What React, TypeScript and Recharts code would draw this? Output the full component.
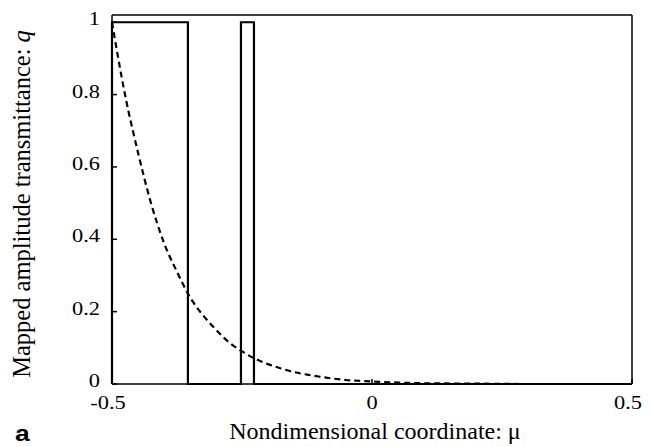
import { LineChart, Line, XAxis, YAxis, Label } from 'recharts';

// aperture (rectangles) in mu coordinate
const apertureMu = [-0.5, -0.5, -0.354, -0.354, -0.252, -0.252, -0.227, -0.227, 0.5];
const apertureQ = [0, 1, 1, 0, 0, 1, 1, 0, 0];

// mapped transmittance curve
const curveMu = [-0.5, -0.475, -0.45, -0.425, -0.4, -0.375, -0.35, -0.325, -0.3, -0.275, -0.25, -0.225, -0.2, -0.175, -0.15, -0.125, -0.1, -0.075, -0.05, -0.025, 0, 0.05, 0.1, 0.2, 0.3, 0.5];
const curveQ = [1.0, 0.8, 0.64, 0.5, 0.39, 0.31, 0.24, 0.19, 0.15, 0.115, 0.09, 0.07, 0.055, 0.043, 0.033, 0.026, 0.02, 0.015, 0.011, 0.009, 0.007, 0.004, 0.002, 0.001, 0, 0];

const xTicks = [-0.5, 0, 0.5];
const yTicks = [0, 0.2, 0.4, 0.6, 0.8, 1];

const apertureData = apertureMu.map((mu, i) => ({ mu, q: apertureQ[i] }));
const curveData = curveMu.map((mu, i) => ({ mu, q: curveQ[i] }));

const FONT = '"Liberation Serif", "Times New Roman", serif';
const TICK = 5;
const TICK_W = 1.5;

// tick labels in the figure are a little wider than tall
const TickText = ({ x, y, anchor, children }: any) => (
  <text
    transform={`translate(${x},${y}) scale(1.18,1)`}
    textAnchor={anchor}
    style={{ fontFamily: FONT, fontSize: 19 }}
    fill="#000"
  >
    {children}
  </text>
);

const BottomTick = (props: any) => {
  const { x, y, payload } = props;
  const dx = payload.value === 0 ? 0 : -4;
  return (
    <g>
      <line x1={x} y1={y} x2={x} y2={y - TICK} stroke="#000" strokeWidth={TICK_W} />
      <TickText x={x + dx} y={y + 25} anchor="middle">{String(payload.value)}</TickText>
    </g>
  );
};

const TopTick = (props: any) => {
  const { x, y } = props;
  return <line x1={x} y1={y} x2={x} y2={y + TICK} stroke="#000" strokeWidth={TICK_W} />;
};

const LeftTick = (props: any) => {
  const { x, y, payload } = props;
  return (
    <g>
      <line x1={x} y1={y} x2={x + TICK} y2={y} stroke="#000" strokeWidth={TICK_W} />
      <TickText x={x - 12} y={y + 3} anchor="end">{String(payload.value)}</TickText>
    </g>
  );
};

const RightTick = (props: any) => {
  const { x, y } = props;
  return <line x1={x} y1={y} x2={x - TICK} y2={y} stroke="#000" strokeWidth={TICK_W} />;
};

const XLabel = () => (
  <g>
    <text x={375} y={439} textAnchor="middle" style={{ fontFamily: FONT, fontSize: 24 }} fill="#000">
      Nondimensional coordinate: μ
    </text>
    <text
      transform="translate(15,441) scale(1.2,1)"
      style={{ fontFamily: '"Liberation Sans", Arial, sans-serif', fontWeight: 'bold', fontSize: 22 }}
      fill="#000"
    >
      a
    </text>
  </g>
);

const YLabel = () => (
  <text
    transform="translate(30,204) rotate(-90)"
    textAnchor="middle"
    style={{ fontFamily: FONT, fontSize: 24.5 }}
    fill="#000"
  >
    Mapped amplitude transmittance: <tspan fontStyle="italic">q</tspan>
  </text>
);

export default function App() {
  const axisLine = { stroke: '#000', strokeWidth: 1.5 };
  return (
    <div style={{ position: 'absolute', left: 0, top: 0, background: '#fff' }}>
      <LineChart width={653} height={447} margin={{ top: 14, right: 20, bottom: 62, left: 111 }}>
        <XAxis
          dataKey="mu"
          type="number"
          domain={[-0.5, 0.5]}
          ticks={xTicks}
          interval={0}
          height={1}
          tickSize={0}
          tickMargin={0}
          tickLine={false}
          axisLine={axisLine}
          tick={<BottomTick />}
        >
          <Label content={<XLabel />} />
        </XAxis>
        <XAxis
          xAxisId="top"
          orientation="top"
          dataKey="mu"
          type="number"
          domain={[-0.5, 0.5]}
          ticks={xTicks}
          interval={0}
          height={1}
          tickSize={0}
          tickMargin={0}
          tickLine={false}
          axisLine={axisLine}
          tick={<TopTick />}
        />
        <YAxis
          type="number"
          domain={[0, 1.02]}
          ticks={yTicks}
          interval={0}
          width={1}
          tickSize={0}
          tickMargin={0}
          tickLine={false}
          axisLine={axisLine}
          tick={<LeftTick />}
        >
          <Label content={<YLabel />} />
        </YAxis>
        <YAxis
          yAxisId="right"
          orientation="right"
          type="number"
          domain={[0, 1.02]}
          ticks={yTicks}
          interval={0}
          width={1}
          tickSize={0}
          tickMargin={0}
          tickLine={false}
          axisLine={axisLine}
          tick={<RightTick />}
        />
        <Line
          data={curveData}
          dataKey="q"
          type="monotone"
          stroke="#000"
          strokeWidth={2.2}
          strokeDasharray="6 4"
          dot={false}
          isAnimationActive={false}
        />
        <Line
          data={apertureData}
          dataKey="q"
          type="linear"
          stroke="#000"
          strokeWidth={2.2}
          dot={false}
          isAnimationActive={false}
        />
      </LineChart>
    </div>
  );
}
